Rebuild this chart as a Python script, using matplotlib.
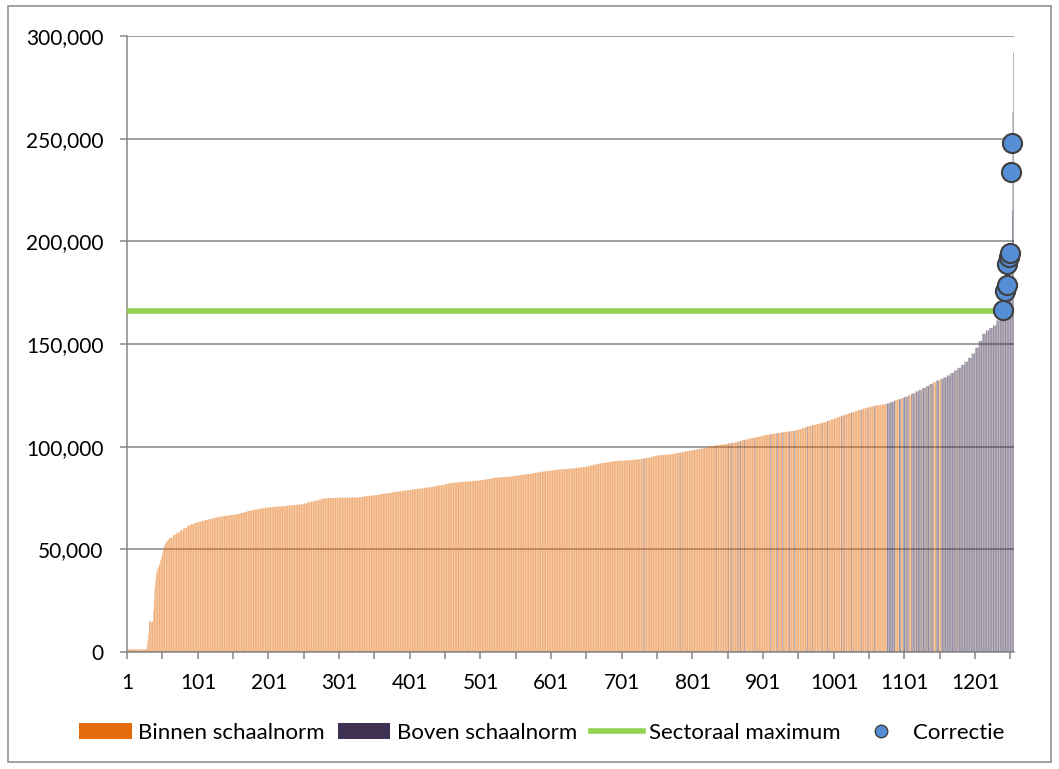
"""Sorted bar chart: value per organisation, coloured by schaalnorm, with the
sectoral maximum as a horizontal line and the corrected values as circles.
"""

import matplotlib

matplotlib.use("Agg")

import matplotlib.pyplot as plt
import numpy as np
from matplotlib.lines import Line2D
from matplotlib.patches import Patch, Rectangle
from matplotlib.ticker import FuncFormatter

# Bar heights in thousands.
# ranks 1..60, one value per bar
HEAD_K = [
    1.3, 1.3, 1.3, 1.3, 1.3, 1.3, 1.3, 1.3, 1.3, 1.3,
    1.3, 1.3, 1.3, 1.3, 1.3, 1.3, 1.3, 1.3, 1.3, 1.3,
    1.3, 1.3, 1.3, 1.3, 1.3, 1.3, 1.3, 1.3, 3.0, 5.5,
    9.0, 14.8, 14.8, 14.8, 14.8, 14.8, 14.8, 20.0, 26.0, 31.0,
    35.0, 38.0, 39.5, 40.5, 41.2, 42.0, 43.0, 44.5, 45.6, 47.0,
    48.5, 50.0, 51.3, 52.2, 53.0, 53.6, 54.0, 54.3, 54.6, 54.9,
]
# ranks 61..1235, one value per group of 5 bars
BODY_K = [
    55.6, 57.0, 58.2, 59.3, 60.4, 61.6, 62.3, 62.9, 63.4, 63.9,
    64.3, 64.7, 65.1, 65.6, 65.9, 66.2, 66.4, 66.7, 66.9, 67.3,
    67.7, 68.2, 68.7, 69.1, 69.4, 69.7, 70.0, 70.3, 70.5, 70.6,
    70.8, 70.9, 71.0, 71.2, 71.4, 71.6, 71.8, 72.0, 72.4, 72.9,
    73.3, 73.7, 74.1, 74.6, 74.9, 75.0, 75.0, 75.1, 75.1, 75.2,
    75.2, 75.2, 75.3, 75.3, 75.5, 75.8, 76.0, 76.2, 76.4, 76.7,
    77.0, 77.2, 77.5, 77.8, 78.1, 78.3, 78.6, 78.8, 79.0, 79.3,
    79.5, 79.7, 80.0, 80.2, 80.5, 80.8, 81.1, 81.4, 81.8, 82.2,
    82.5, 82.6, 82.8, 82.9, 83.1, 83.2, 83.4, 83.5, 83.7, 84.0,
    84.3, 84.6, 84.9, 85.0, 85.2, 85.3, 85.4, 85.7, 85.9, 86.2,
    86.4, 86.7, 86.9, 87.2, 87.5, 87.8, 88.0, 88.3, 88.5, 88.7,
    88.9, 89.0, 89.1, 89.3, 89.5, 89.7, 89.9, 90.1, 90.5, 90.9,
    91.3, 91.7, 92.0, 92.3, 92.5, 92.8, 93.0, 93.1, 93.2, 93.3,
    93.4, 93.6, 93.8, 94.0, 94.3, 94.6, 95.0, 95.5, 95.8, 95.9,
    96.1, 96.2, 96.4, 96.8, 97.1, 97.5, 97.8, 98.1, 98.4, 98.7,
    99.0, 99.4, 99.8, 100.2, 100.5, 100.8, 101.0, 101.3, 101.6, 101.9,
    102.2, 102.7, 103.2, 103.6, 104.0, 104.3, 104.7, 105.1, 105.5, 105.9,
    106.2, 106.4, 106.7, 107.0, 107.2, 107.4, 107.7, 108.1, 108.5, 109.1,
    109.7, 110.2, 110.6, 111.0, 111.4, 111.9, 112.6, 113.2, 113.8, 114.5,
    115.1, 115.7, 116.3, 116.8, 117.4, 117.9, 118.5, 119.0, 119.5, 119.9,
    120.2, 120.4, 120.7, 121.1, 121.8, 122.5, 123.1, 123.7, 124.3, 125.1,
    126.0, 126.9, 127.7, 128.6, 129.5, 130.5, 131.4, 132.2, 133.0, 133.8,
    134.7, 135.9, 137.1, 138.4, 139.8, 141.4, 143.2, 145.4, 148.2, 151.5,
    155.0, 156.6, 157.8, 159.0, 161.5,
]
# ranks 1236..1255, one value per bar
TAIL_K = [
    162.8, 163.2, 163.6, 164.0, 164.4, 164.8, 165.2, 165.6, 166.0, 166.5,
    167.0, 168.0, 170.0, 174.0, 180.0, 190.0, 197.0, 215.0, 263.0, 292.0,
]

# Ranks drawn as "Boven schaalnorm"
BOVEN_SINGLE = [
    732, 783, 834, 851, 856, 865, 869, 874, 889, 911, 921, 928, 938, 945,
    963, 970, 984, 992, 1011, 1015, 1026, 1040, 1049, 1058,
]
BOVEN_RUNS = [
    (1076, 1087), (1093, 1095), (1099, 1102), (1104, 1106), (1111, 1115),
    (1117, 1123), (1125, 1130), (1132, 1136), (1138, 1141), (1146, 1149),
    (1153, 1174), (1176, 1255),
]

SECTORAAL_MAX = 166000
CORR_RANK = [1240, 1243, 1245, 1246, 1248, 1250, 1251, 1253]
CORR_VAL = [166500, 175900, 178700, 188800, 192500, 194400, 233900, 248000]

XLABEL_RANKS = [1, 101, 201, 301, 401, 501, 601, 701, 801, 901, 1001, 1101, 1201]

ORANGE = "#E46C0A"
PURPLE = "#3F3151"
GREEN = "#92D050"
BLUE = "#558ED5"
GRID = "#868686"

plt.rcParams["font.family"] = ["Lato", "DejaVu Sans"]
plt.rcParams["font.size"] = 15


def main():
    vals = np.concatenate([HEAD_K, np.repeat(BODY_K, 5), TAIL_K]) * 1000
    n = len(vals)
    ranks = np.arange(1, n + 1)

    boven = np.zeros(n, dtype=bool)
    for r in BOVEN_SINGLE:
        boven[r - 1] = True
    for a, b in BOVEN_RUNS:
        boven[a - 1:b] = True
    colors = np.where(boven, PURPLE, ORANGE)

    W, H = 1059, 769
    fig = plt.figure(figsize=(W / 100, H / 100), dpi=100)
    ax = fig.add_axes([127 / W, 1 - 652 / H, (1014 - 127) / W, (652 - 36) / H])

    # bars are thinner than a pixel; no snapping so they blend like the original
    bars = ax.bar(ranks, vals, width=0.5, color=colors, linewidth=0, zorder=2)
    for b in bars:
        b.set_snap(False)
    ax.hlines(SECTORAAL_MAX, ranks[0], ranks[-1], color=GREEN, lw=4.0, zorder=3)
    ax.scatter(CORR_RANK, CORR_VAL, s=190, color=BLUE, edgecolor="#3F3F3F",
               linewidth=1.5, zorder=4, clip_on=False)

    ax.set_xlim(0.5, n + 0.5)
    ax.set_ylim(0, 300000)
    ax.set_yticks(np.arange(0, 300001, 50000))
    ax.yaxis.set_major_formatter(FuncFormatter(lambda v, _: f"{v:,.0f}"))
    ax.set_xticks(XLABEL_RANKS)
    ax.set_xticks(np.arange(0.5, n + 1, 50), minor=True)
    ax.tick_params(axis="x", which="major", length=0, pad=15)
    ax.tick_params(axis="x", which="minor", length=5, width=1.1, color=GRID)
    ax.tick_params(axis="y", length=5, width=1.1, color=GRID, pad=12)

    ax.set_axisbelow(True)
    ax.yaxis.grid(True, color=GRID, lw=1.1)
    for side in ("top", "right"):
        ax.spines[side].set_visible(False)
    for side in ("left", "bottom"):
        ax.spines[side].set_color(GRID)
        ax.spines[side].set_linewidth(1.1)

    handles = [
        Patch(facecolor=ORANGE, label="Binnen schaalnorm"),
        Patch(facecolor=PURPLE, label="Boven schaalnorm"),
        Line2D([], [], color=GREEN, lw=4.0, label="Sectoraal maximum"),
        Line2D([], [], ls="none", marker="o", ms=9, mfc=BLUE, mec="#3F3F3F",
               mew=1.0, label="Correctie"),
    ]
    fig.legend(handles=handles, loc="center", ncol=4, frameon=False, fontsize=16,
               bbox_to_anchor=(542 / W, 1 - 733 / H), handlelength=2.35,
               handleheight=0.7, handletextpad=0.3, columnspacing=0.6)

    fig.patches.append(Rectangle((8 / W, 1 - 762 / H), (1051 - 8) / W, (762 - 6) / H,
                                 transform=fig.transFigure, fill=False,
                                 edgecolor=GRID, lw=1.1))

    fig.savefig("out.png", dpi=100)


if __name__ == "__main__":
    main()
